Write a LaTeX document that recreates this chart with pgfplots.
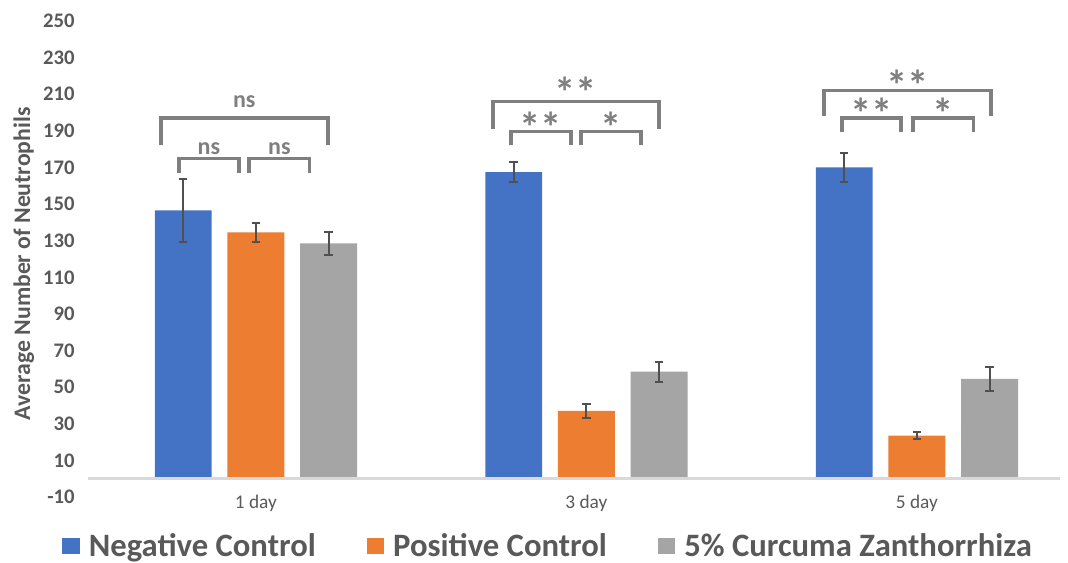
\documentclass[border=0pt]{standalone}
\usepackage{fontspec}
\setmainfont{Carlito}
\usepackage{pgfplots}
\pgfplotsset{compat=1.18}
\definecolor{cblue}{RGB}{68,114,196}
\definecolor{corange}{RGB}{237,125,49}
\definecolor{cgray}{RGB}{165,165,165}
\definecolor{txtgray}{RGB}{89,89,89}
\definecolor{ebar}{RGB}{80,80,80}
\definecolor{brk}{RGB}{127,127,127}
\definecolor{axgray}{RGB}{217,217,217}
\begin{document}
\begin{tikzpicture}
\path[use as bounding box] (-66pt,-49.5pt) rectangle (735pt,372.75pt);
\begin{axis}[
  at={(0,0)}, anchor=south west,
  scale only axis, width=729pt, height=357pt,
  xmin=-0.508, xmax=2.433, ymin=-10, ymax=250,
  axis line style={draw=none},
  major tick length=0pt,
  ytick={-10,10,...,250},
  xtick={0,1,2}, xticklabels={1 day,3 day,5 day},
  /pgf/number format/assume math mode=true,
  yticklabel style={font=\bfseries\fontsize{15.5}{17}\selectfont, text=txtgray, xshift=-6.5pt},
  xticklabel style={font=\fontsize{14.5}{16}\selectfont, text=txtgray, yshift=5pt},
  ylabel={Average Number of Neutrophils},
  ylabel style={font=\bfseries\fontsize{17.8}{20}\selectfont, text=txtgray, at={(axis description cs:-0.066,0.49)}, anchor=center},
  legend style={at={(axis description cs:0.473,-0.102)}, anchor=center, draw=none, fill=none,
    inner sep=0pt, nodes={inner sep=1pt},
    font=\bfseries\fontsize{24.5}{26}\selectfont, text=txtgray, legend columns=3,
    /tikz/every even column/.append style={column sep=37pt},
    /tikz/every odd column/.append style={column sep=6pt}},
  legend image code/.code={\fill[#1] (0pt,-6pt) rectangle (13pt,6pt);},
  error bars/error bar style={line width=1.5pt, color=ebar},
  error bars/error mark options={rotate=90, mark size=3.2pt, line width=1.5pt, color=ebar},
]
\addplot[ybar, bar width=0.172, fill=cblue, draw=none,
  error bars/.cd, y dir=both, y explicit]
  coordinates {(-0.22,146.5) +- (0,17) (0.78,167.5) +- (0,5.5) (1.78,170) +- (0,8)};
\addlegendentry{Negative Control}
\addplot[ybar, bar width=0.172, fill=corange, draw=none,
  error bars/.cd, y dir=both, y explicit]
  coordinates {(0,134.5) +- (0,5) (1,37) +- (0,4) (2,23.5) +- (0,2)};
\addlegendentry{Positive Control}
\addplot[ybar, bar width=0.172, fill=cgray, draw=none,
  error bars/.cd, y dir=both, y explicit]
  coordinates {(0.22,128.5) +- (0,6.5) (1.22,58.5) +- (0,5.5) (2.22,54.5) +- (0,6.5)};
\addlegendentry{5\% Curcuma Zanthorrhiza}
\draw[axgray, line width=2.2pt] (axis cs:-0.508,0) -- (axis cs:2.433,0);
% significance brackets
\begin{scope}[brk, line width=2.6pt]
% day 1
\draw (axis cs:-0.287,182) -- (axis cs:-0.287,197) -- (axis cs:0.218,197) -- (axis cs:0.218,182);
\draw (axis cs:-0.233,167) -- (axis cs:-0.233,175) -- (axis cs:-0.051,175) -- (axis cs:-0.051,167);
\draw (axis cs:-0.021,167) -- (axis cs:-0.021,175) -- (axis cs:0.163,175) -- (axis cs:0.163,167);
% day 3
\draw (axis cs:0.717,191) -- (axis cs:0.717,206) -- (axis cs:1.219,206) -- (axis cs:1.219,191);
\draw (axis cs:0.772,182) -- (axis cs:0.772,189.6) -- (axis cs:0.953,189.6) -- (axis cs:0.953,182);
\draw (axis cs:0.983,182) -- (axis cs:0.983,189.6) -- (axis cs:1.165,189.6) -- (axis cs:1.165,182);
% day 5
\draw (axis cs:1.719,198) -- (axis cs:1.719,212) -- (axis cs:2.224,212) -- (axis cs:2.224,198);
\draw (axis cs:1.773,189.6) -- (axis cs:1.773,197) -- (axis cs:1.952,197) -- (axis cs:1.952,189.6);
\draw (axis cs:1.988,189.6) -- (axis cs:1.988,197) -- (axis cs:2.172,197) -- (axis cs:2.172,189.6);
\end{scope}
\begin{scope}[every node/.style={font=\bfseries\fontsize{18}{20}\selectfont, text=brk, anchor=center, inner sep=0pt}]
\node at (axis cs:-0.035,206) {ns};
\node at (axis cs:-0.142,180) {ns};
\node at (axis cs:0.071,180) {ns};
\end{scope}
\begin{scope}[every node/.style={font=\bfseries\fontsize{32}{34}\selectfont, text=brk, anchor=base, inner sep=0pt, yshift=-15pt}]
\node at (axis cs:0.968,213.7) {**};
\node at (axis cs:0.862,194.5) {**};
\node at (axis cs:1.074,194.5) {*};
\node at (axis cs:1.971,217.5) {**};
\node at (axis cs:1.862,202) {**};
\node at (axis cs:2.080,202) {*};
\end{scope}
\end{axis}
\end{tikzpicture}
\end{document}
